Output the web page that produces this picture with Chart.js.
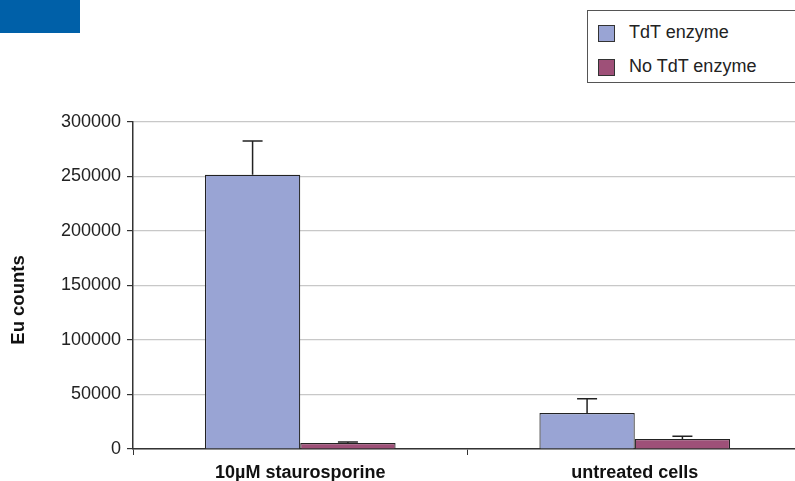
<!DOCTYPE html>
<html>
<head>
<meta charset="utf-8">
<script src="https://cdn.jsdelivr.net/npm/chart.js@4/dist/chart.umd.min.js"></script>
<style>
  html, body { margin: 0; padding: 0; background: #fff; overflow: hidden; }
  #wrap { position: relative; width: 795px; height: 481px; overflow: hidden; }
  #box { position: absolute; left: 0; top: 0; width: 80px; height: 33px; background: #0060a8; }
  #chartHolder { position: absolute; left: 0; top: 0; width: 802px; height: 481px; }
  #legend {
    position: absolute; left: 587px; top: 10px; width: 240px; height: 71px;
    border: 1px solid #555; background: #fff;
    font-family: "Liberation Sans", Arial, sans-serif; font-size: 18px; color: #222;
  }
  .item { position: absolute; left: 10px; height: 18px; line-height: 18px; }
  .sw { display: inline-block; width: 15px; height: 15px; border: 1px solid #333; vertical-align: middle; margin-right: 14px; }
</style>
</head>
<body>
<div id="wrap">
  <div id="chartHolder"><canvas id="euChart" width="802" height="481"></canvas></div>
  <div id="box"></div>
  <div id="legend"></div>
</div>
<script>
const categories = ["10\u00b5M staurosporine", "untreated cells"];
const seriesNames = ["TdT enzyme", "No TdT enzyme"];
const tdtValues = [251500, 33000];
const noTdtValues = [5500, 9200];
const tdtErrors = [31000, 13000];
const noTdtErrors = [1000, 2600];
const yTicks = [0, 50000, 100000, 150000, 200000, 250000, 300000];
const yTitle = "Eu counts";
const colors = ["#99a4d4", "#9e5078"];

const legendDiv = document.getElementById("legend");
seriesNames.forEach((name, i) => {
  legendDiv.innerHTML += `<div class="item" style="top:${i === 0 ? 12 : 46}px"><span class="sw" style="background:${colors[i]}"></span>${name}</div>`;
});

const errorBars = {
  id: "errorBars",
  afterDatasetsDraw(chart) {
    const ctx = chart.ctx;
    const yScale = chart.scales.y;
    chart.data.datasets.forEach((ds, di) => {
      const meta = chart.getDatasetMeta(di);
      meta.data.forEach((bar, i) => {
        const top = yScale.getPixelForValue(ds.data[i] + ds.errors[i]);
        ctx.save();
        ctx.strokeStyle = "#222";
        ctx.lineWidth = 1.5;
        ctx.beginPath();
        ctx.moveTo(bar.x, bar.y);
        ctx.lineTo(bar.x, top);
        ctx.moveTo(bar.x - 10, top);
        ctx.lineTo(bar.x + 10, top);
        ctx.stroke();
        ctx.restore();
      });
    });
  }
};

// y axis title, drawn a bit below the middle of the axis like the original
const axisTitle = {
  id: "axisTitle",
  afterDraw(chart) {
    const ctx = chart.ctx;
    ctx.save();
    ctx.translate(19, 300);
    ctx.rotate(-Math.PI / 2);
    ctx.font = "bold 18.5px 'Liberation Sans', Arial, sans-serif";
    ctx.fillStyle = "#111";
    ctx.textAlign = "center";
    ctx.textBaseline = "middle";
    ctx.fillText(yTitle, 0, 0);
    ctx.restore();
  }
};

const font = { family: "'Liberation Sans', Arial, sans-serif", size: 18 };

new Chart(document.getElementById("euChart").getContext("2d"), {
  type: "bar",
  data: {
    labels: categories,
    datasets: [
      { label: seriesNames[0], data: tdtValues, errors: tdtErrors, backgroundColor: colors[0], borderColor: "#222", borderWidth: 1.2 },
      { label: seriesNames[1], data: noTdtValues, errors: noTdtErrors, backgroundColor: colors[1], borderColor: "#222", borderWidth: 1.2 }
    ]
  },
  options: {
    responsive: false,
    animation: false,
    layout: { padding: { top: 122, left: 0, right: 0, bottom: 0 } },
    categoryPercentage: 0.57,
    barPercentage: 1.0,
    plugins: { legend: { display: false }, tooltip: { enabled: false } },
    scales: {
      x: {
        grid: { drawOnChartArea: false, drawTicks: true, tickLength: 6, tickColor: "#333", offset: true },
        border: { color: "#333", width: 1.5 },
        ticks: { color: "#111", font: { ...font, size: 18, weight: "bold" }, padding: 7 },
        afterFit(scale) { scale.height = 32; }
      },
      y: {
        min: 0,
        max: 300000,
        afterBuildTicks(scale) { scale.ticks = yTicks.map((v) => ({ value: v })); },
        grid: { color: "#c8c8c8", lineWidth: 1.2, tickColor: "#333", tickLength: 6 },
        border: { color: "#333", width: 1.5 },
        ticks: { color: "#222", font: font, padding: 6, callback: (v) => String(v) },
        afterFit(scale) { scale.width = 133; }
      }
    }
  },
  plugins: [errorBars, axisTitle]
});
</script>
</body>
</html>
